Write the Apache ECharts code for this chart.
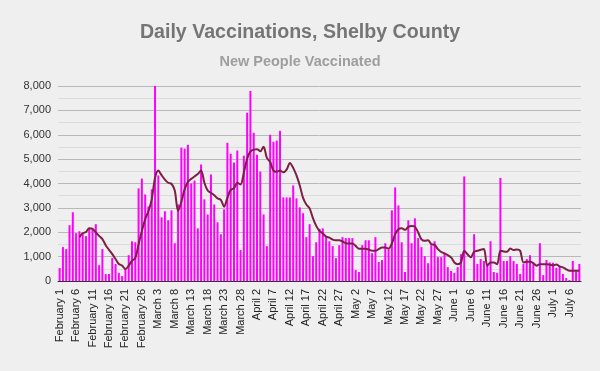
<!DOCTYPE html>
<html>
<head>
<meta charset="utf-8">
<script src="https://cdn.jsdelivr.net/npm/echarts@6/dist/echarts.min.js"></script>
<style>
html,body{margin:0;padding:0;background:#efefef;}
#chart{width:600px;height:371px;}
</style>
</head>
<body>
<div id="chart"></div>
<script>
// Category months and day counts (Feb 1 .. Jul 9)
const months = ["February", "March", "April", "May", "June", "July"];
const monthDays = [28, 31, 30, 31, 30, 9];

// Daily new people vaccinated (bars)
const newVaccinated = [
  530, 1390, 1310, 2290, 2820, 1960, 2040, 1960, 1840, 2160,
  2110, 2330, 650, 1310, 290, 290, 950, 700, 330, 200,
  490, 1060, 1630, 1590, 3800, 4200, 3550, 3060, 3760, 8000,
  4330, 2610, 2860, 2490, 2900, 1550, 3140, 5470, 5430, 5590,
  4000, 4120, 2160, 4780, 3350, 2730, 4370, 3140, 2410, 1920,
  2940, 5670, 5220, 4860, 5350, 1270, 5140, 6900, 7800, 6080,
  5180, 4490, 2730, 1430, 6000, 5710, 5760, 6160, 3430, 3430,
  3430, 3920, 3390, 3020, 2780, 1800, 2330, 1020, 1590, 2140,
  2160, 1840, 1630, 1430, 940, 1470, 1800, 1760, 1760, 1760,
  450, 370, 1470, 1670, 1670, 1140, 1800, 780, 860, 1550,
  1300, 2900, 3840, 3100, 1590, 370, 2490, 1550, 2570, 1760,
  1390, 1020, 730, 1470, 1630, 980, 980, 1120, 570, 410,
  330, 570, 1100, 4290, 0, 0, 1920, 700, 900, 820,
  650, 1630, 370, 330, 4230, 820, 820, 1020, 820, 700,
  290, 700, 900, 1060, 700, 0, 1550, 240, 860, 760,
  750, 540, 610, 290, 120, 40, 820, 400, 700
];

// 7-day average line
const avgLine = [
  null, null, null, null, null, null, 1800, 1960, 2010, 2160,
  2140, 1990, 1850, 1720, 1470, 1280, 1100, 900, 700, 630,
  490, 630, 830, 940, 1510, 2050, 2530, 2870, 3350, 4230,
  4530, 4340, 4160, 4030, 3990, 3710, 2870, 3250, 3760, 4070,
  4190, 4290, 4390, 4530, 4030, 3710, 3620, 3520, 3390, 3330,
  3050, 3410, 3740, 3800, 4030, 3960, 4440, 5020, 5320, 5390,
  5410, 5320, 5510, 5050, 4880, 4530, 4480, 4530, 4460, 4570,
  4840, 4640, 4330, 3920, 3410, 3140, 2980, 2580, 2260, 2050,
  1950, 1820, 1780, 1700, 1670, 1670, 1620, 1550, 1540, 1540,
  1440, 1320, 1320, 1320, 1290, 1240, 1240, 1310, 1370, 1370,
  1330, 1540, 1920, 2120, 2160, 2100, 2220, 2260, 2230, 1990,
  1710, 1650, 1670, 1510, 1480, 1310, 1190, 1130, 1060, 970,
  760, 690, 760, 1240, 1100, 970, 1200, 1240, 1280, 1310,
  630, 760, 760, 690, 1240, 1210, 1200, 1330, 1270, 1290,
  1240, 760, 790, 790, 730, 630, 690, 690, 690, 670,
  640, 680, 600, 560, 480, 420, 420, 420, 420
];

const yTicks = [0, 1000, 2000, 3000, 4000, 5000, 6000, 7000, 8000];

const categories = [];
months.forEach((m, i) => { for (let d = 1; d <= monthDays[i]; d++) categories.push(m + " " + d); });

const FONT = "'Liberation Sans', Arial, sans-serif";
const chart = echarts.init(document.getElementById('chart'), null, {renderer: 'canvas'});
chart.setOption({
  animation: false,
  backgroundColor: '#efefef',
  title: [
    {text: 'Daily Vaccinations, Shelby County', left: 'center', top: 18,
     textStyle: {fontFamily: FONT, fontSize: 19.6, fontWeight: 'bold', color: '#757575'}},
    {text: 'New People Vaccinated', left: 'center', top: 49,
     textStyle: {fontFamily: FONT, fontSize: 14.5, fontWeight: 'bold', color: '#9e9e9e'}}
  ],
  grid: {left: 58, right: 19, top: 86, bottom: 90, containLabel: false},
  xAxis: {
    type: 'category',
    data: categories,
    boundaryGap: true,
    axisLine: {show: true, lineStyle: {color: '#333', width: 1}},
    axisTick: {show: false},
    axisLabel: {interval: 4, rotate: 90, fontFamily: FONT, fontSize: 11, color: '#222', margin: 8}
  },
  yAxis: {
    type: 'value',
    min: yTicks[0],
    max: yTicks[yTicks.length - 1],
    interval: 1000,
    axisLine: {show: false},
    axisTick: {show: false},
    axisLabel: {fontFamily: FONT, fontSize: 11, color: '#333', margin: 7,
      formatter: v => v.toLocaleString('en-US')},
    splitLine: {show: true, lineStyle: {color: '#b9b9b9', width: 1}},
    minorTick: {show: false, splitNumber: 2},
    minorSplitLine: {show: true, lineStyle: {color: '#dcdcdc', width: 1}}
  },
  series: [
    {type: 'bar', data: newVaccinated, barWidth: 2, itemStyle: {color: '#ff00ff'}, z: 2},
    {type: 'line', data: avgLine, smooth: 0.3, showSymbol: false, symbol: 'none',
     lineStyle: {color: '#7b1f45', width: 2}, z: 3}
  ]
});
</script>
</body>
</html>
